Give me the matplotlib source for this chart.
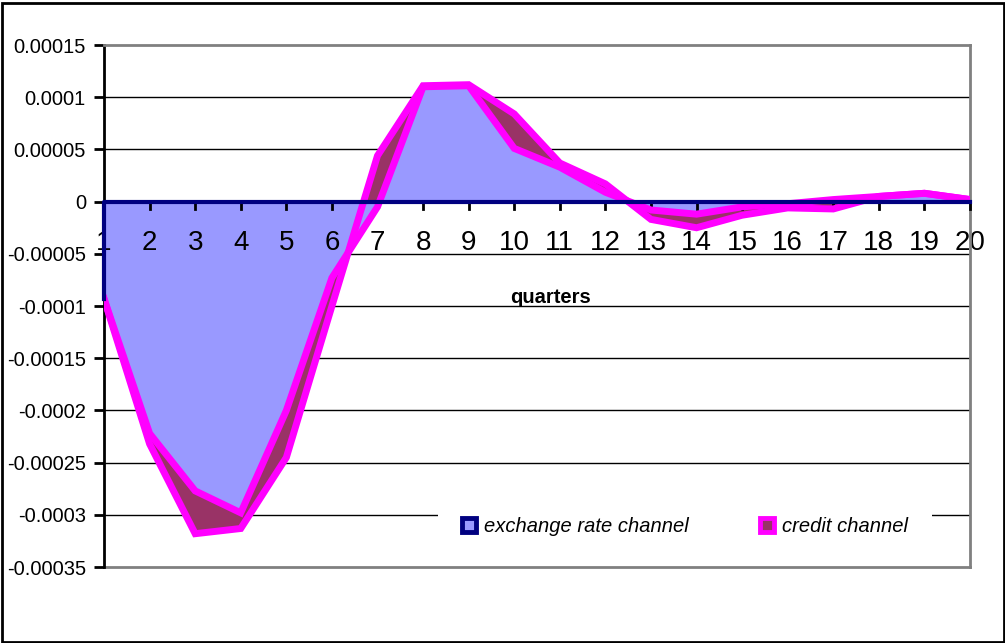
import matplotlib
matplotlib.use("Agg")
import matplotlib.pyplot as plt
from matplotlib.lines import Line2D
from matplotlib.patches import Rectangle
import numpy as np

plt.rcParams['font.family'] = ['Liberation Sans', 'DejaVu Sans']

# quarters after the shock
quarters = np.arange(1, 21)
exchange_rate = [-0.000093, -0.000222, -0.000277, -0.000298, -0.000200, -0.000073, -0.000005,
                 0.000110, 0.000111, 0.000051, 0.000033, 0.000009, -0.000008, -0.000012,
                 -0.000005, -0.000002, 0.000002, 0.000005, 0.000008, 0.000002]
credit = [-0.000093, -0.000232, -0.000318, -0.000313, -0.000245, -0.000100, 0.000044,
          0.000111, 0.000112, 0.000084, 0.000037, 0.000017, -0.000017, -0.000025,
          -0.000013, -0.000006, -0.000007, 0.000005, 0.000008, 0.000002]
yticks = [0.00015, 0.0001, 0.00005, 0, -0.00005, -0.0001, -0.00015, -0.0002,
          -0.00025, -0.0003, -0.00035]
ylabels = ["0.00015", "0.0001", "0.00005", "0", "-0.00005", "-0.0001", "-0.00015",
           "-0.0002", "-0.00025", "-0.0003", "-0.00035"]

blue_fill = "#9999FF"
navy = "#000080"
maroon = "#993366"
magenta = "#FF00FF"

fig = plt.figure(figsize=(10.05, 6.43), dpi=100)
ax = fig.add_axes([0.1035, 0.118, 0.8617, 0.812])
ax.set_xlim(1, 20)
ax.set_ylim(-0.00035, 0.00015)

# horizontal grid below the areas
for v in yticks[1:-1]:
    ax.axhline(v, color="black", lw=1, zorder=0.5)

ax.fill_between(quarters, 0, credit, color=maroon, lw=0, zorder=1)
ax.fill_between(quarters, 0, exchange_rate, color=blue_fill, lw=0, zorder=1.1)
ax.plot(quarters, credit, color=magenta, lw=5, solid_joinstyle="miter", zorder=3)
ax.plot(quarters, exchange_rate, color=magenta, lw=5, solid_joinstyle="miter", zorder=3)
ax.plot([1, 1, 20], [exchange_rate[0], 0, 0], color=navy, lw=3, zorder=4, clip_on=False)

# borders of the plot area
for s in ["top", "right"]:
    ax.spines[s].set_color("#808080")
    ax.spines[s].set_linewidth(2)
ax.spines["left"].set_color("black")
ax.spines["left"].set_linewidth(2)
ax.spines["bottom"].set_visible(False)
ax.axhline(-0.00035, color="#808080", lw=2, zorder=0.6, clip_on=False)

ax.set_yticks(yticks)
ax.set_yticklabels(ylabels, fontsize=14.5)
ax.tick_params(axis="y", direction="out", length=7, width=2, pad=6)

ax.set_xticks([])
for q in quarters:
    ax.plot([q, q], [0, -0.0000075], color="black", lw=2, zorder=2.6, clip_on=False)
    ax.text(q, -0.00004, str(q), fontsize=20, ha="center", va="center", zorder=2.5)

ax.text(10.8, -0.000092, "quarters", fontsize=14.5, fontweight="bold",
        ha="center", va="center")

handles = [
    Line2D([], [], marker="s", ls="none", markersize=10, markerfacecolor=blue_fill,
           markeredgecolor=navy, markeredgewidth=3.5),
    Line2D([], [], marker="s", ls="none", markersize=10, markerfacecolor=maroon,
           markeredgecolor=magenta, markeredgewidth=3.5),
]
leg = ax.legend(handles, ["exchange rate channel", "credit channel"], ncol=2,
                loc="center", bbox_to_anchor=(0.671, 0.077), frameon=True,
                fancybox=False, edgecolor="none", facecolor="white", framealpha=1,
                prop={"size": 14.5, "style": "italic"}, handlelength=0.7,
                handletextpad=0.4, columnspacing=3.5, borderpad=1.2)
leg.set_zorder(5)

# outer chart border
fig.patches.append(Rectangle((0.002, 0.002), 0.997, 0.994, transform=fig.transFigure,
                             fill=False, edgecolor="black", lw=2))

fig.savefig("out.png", dpi=100, facecolor="white")
